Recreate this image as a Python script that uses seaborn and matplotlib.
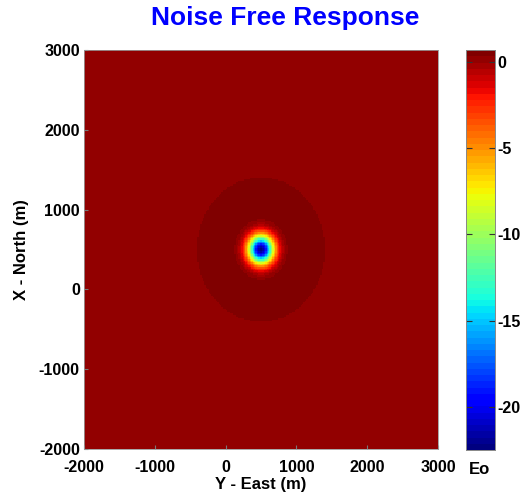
import numpy as np
import pandas as pd
import matplotlib
matplotlib.use("Agg")
import matplotlib.pyplot as plt
import seaborn as sns

# ---- data ----
east_range = [-2000, 3000]          # Y - East (m)
north_range = [-2000, 3000]         # X - North (m)
cell_size = 20                      # grid spacing (m)
anomaly_center = [500, 500]         # east, north (m)
anomaly_amplitude = -22.9           # peak drop of Eo
anomaly_width = 125                 # gaussian sigma (m)
halo_radius = 900                   # faint darker disc radius (m)
halo_level = 0.6
background_level = 0.15
color_limits = [-22.5, 0.7]
x_ticks = [-2000, -1000, 0, 1000, 2000, 3000]
y_ticks = [-2000, -1000, 0, 1000, 2000, 3000]
cbar_ticks = [0, -5, -10, -15, -20]

# ---- build the grid ----
east = np.arange(east_range[0] + cell_size / 2, east_range[1], cell_size)
north = np.arange(north_range[1] - cell_size / 2, north_range[0], -cell_size)
E, N = np.meshgrid(east, north)
r = np.hypot(E - anomaly_center[0], N - anomaly_center[1])
halo = 1.0 / (1.0 + np.exp((r - halo_radius) / 15.0))
field = background_level + (halo_level - background_level) * halo \
    + anomaly_amplitude * np.exp(-r ** 2 / (2 * anomaly_width ** 2))
df = pd.DataFrame(field, index=north, columns=east)

# ---- style ----
plt.rcParams["font.family"] = ["Liberation Sans", "DejaVu Sans"]
W, H = 531, 501
fig = plt.figure(figsize=(W / 100, H / 100), dpi=100)
ax = fig.add_axes([84 / W, 1 - 449 / H, 354 / W, 399 / H])
cax = fig.add_axes([466 / W, 1 - 450 / H, 29 / W, 400 / H])

cmap = plt.get_cmap("jet", 64)
sns.heatmap(df, ax=ax, cmap=cmap, vmin=color_limits[0], vmax=color_limits[1],
            cbar_ax=cax, xticklabels=False, yticklabels=False, rasterized=True)

tick_font = dict(fontsize=11.5, fontweight="bold")
ax.set_xticks([(v - east_range[0]) / cell_size for v in x_ticks])
ax.set_xticklabels([str(v) for v in x_ticks], **tick_font)
ax.set_yticks([(north_range[1] - v) / cell_size for v in y_ticks])
ax.set_yticklabels([str(v) for v in y_ticks], rotation=0, **tick_font)
ax.tick_params(axis="x", direction="in", length=3, color="#777777", pad=8)
ax.tick_params(axis="y", direction="in", length=3, color="#777777", pad=3)
for s in ax.spines.values():
    s.set_visible(True)
    s.set_color("#999999")
    s.set_linewidth(0.6)

ax.set_xlabel("Y - East (m)", fontsize=12, fontweight="bold", labelpad=1)
ax.set_ylabel("X - North (m)", fontsize=12, fontweight="bold", labelpad=7)

cax.set_yticks(cbar_ticks)
cax.set_yticklabels([str(v) for v in cbar_ticks], **tick_font)
cax.tick_params(direction="in", length=4, left=True, right=True,
                labelleft=False, labelright=True, pad=2, color="#333333")
for s in cax.spines.values():
    s.set_visible(True)
    s.set_color("#888888")
    s.set_linewidth(0.6)
cax.text(0.45, -0.03, "Eo", transform=cax.transAxes, ha="center", va="top",
         fontsize=12, fontweight="bold")

fig.text(285 / W, 1 - 18 / H, "Noise Free Response", color="#0000ff",
         fontsize=19, fontweight="bold", ha="center", va="center")

fig.savefig("out.png", dpi=100)
